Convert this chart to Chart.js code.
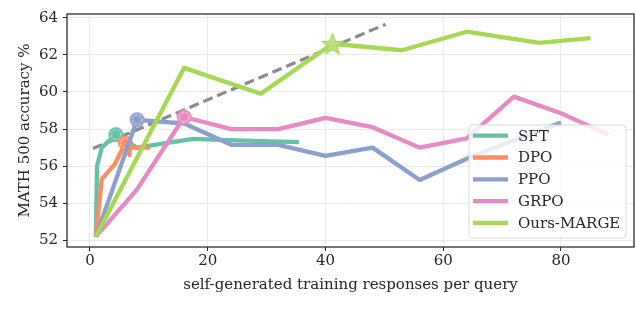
<!DOCTYPE html>
<html>
<head>
<meta charset="utf-8">
<script src="https://cdn.jsdelivr.net/npm/chart.js@4.4.1/dist/chart.umd.min.js"></script>
<style>
  html, body { margin: 0; padding: 0; background: #fff; }
</style>
</head>
<body>
<canvas id="myChart" width="636" height="322"></canvas>
<script>
// tick labels
const xTicks = [0, 20, 40, 60, 80];
const yTicks = [52, 54, 56, 58, 60, 62, 64];

// series (x = responses per query, y = MATH500 accuracy)
const sftX = [1, 1.2, 2, 4.4, 8, 17.5, 22, 35.5];
const sftY = [52.2, 56.0, 57.0, 57.7, 57.0, 57.47, 57.42, 57.3];
const dpoX = [1, 2, 4.2, 6, 6.7, 6.8, 10.2];
const dpoY = [52.2, 55.3, 56.1, 57.25, 56.6, 57.0, 57.0];
const ppoX = [1, 8, 16, 24, 32, 40, 48, 56, 64, 72, 80];
const ppoY = [52.2, 58.5, 58.3, 57.15, 57.15, 56.55, 57.0, 55.25, 56.4, 57.4, 58.35];
const grpoX = [1, 8, 16, 24, 32, 40, 48, 56, 64, 72, 80, 88];
const grpoY = [52.2, 54.75, 58.65, 58.0, 58.0, 58.6, 58.1, 57.0, 57.5, 59.75, 58.85, 57.7];
const margeX = [1, 16, 29, 41.2, 53, 64, 76.3, 85];
const margeY = [52.2, 61.3, 59.9, 62.6, 62.25, 63.25, 62.65, 62.9];
const trendX = [0.5, 50.2];
const trendY = [56.95, 63.65];

const seriesNames = ['SFT', 'DPO', 'PPO', 'GRPO', 'Ours-MARGE'];
const bestIndex = [3, 3, 1, 2, 3];

const colors = ['#66c2a5', '#fc8d62', '#8da0cb', '#e78ac3', '#a6d854'];
const textColor = '#262626';

Chart.defaults.font.family = "'DejaVu Serif', serif";
Chart.defaults.font.size = 15;
Chart.defaults.color = textColor;

function toPoints(xs, ys) {
    return xs.map((x, i) => ({ x: x, y: ys[i] }));
}

function circleMarker(color) {
    const r = 7.5;
    const c = document.createElement('canvas');
    c.width = c.height = 19;
    const g = c.getContext('2d');
    const m = 9.5;
    g.beginPath();
    g.arc(m, m, r, 0, Math.PI * 2);
    g.fillStyle = color;
    g.fill();
    g.beginPath();
    g.setLineDash([2.5, 1.5]);
    g.arc(m, m, r - 2.6, 0, Math.PI * 2);
    g.strokeStyle = 'rgba(255,255,255,0.85)';
    g.lineWidth = 0.9;
    g.stroke();
    return c;
}

function starMarker(color) {
    const R = 10.5, r = 4.4;
    const c = document.createElement('canvas');
    c.width = c.height = 26;
    const g = c.getContext('2d');
    const m = 13;
    g.beginPath();
    for (let i = 0; i < 10; i++) {
        const a = -Math.PI / 2 + i * Math.PI / 5;
        const rr = i % 2 ? r : R;
        g.lineTo(m + rr * Math.cos(a), m + rr * Math.sin(a) + 1);
    }
    g.closePath();
    g.fillStyle = 'rgba(190,228,130,0.9)';
    g.fill();
    g.strokeStyle = color;
    g.lineWidth = 1.6;
    g.stroke();
    return c;
}

function makeDataset(i, xs, ys) {
    const marker = i === 4 ? starMarker(colors[i]) : circleMarker(colors[i]);
    return {
        label: seriesNames[i],
        order: 4 - i,
        data: toPoints(xs, ys),
        borderColor: colors[i],
        backgroundColor: colors[i],
        borderWidth: 4.3,
        borderJoinStyle: 'round',
        borderCapStyle: 'butt',
        tension: 0,
        fill: false,
        pointStyle: marker,
        pointRadius: xs.map((x, k) => k === bestIndex[i] ? 8 : 0),
        pointHoverRadius: 0
    };
}

const frameAndLegend = {
    id: 'frameAndLegend',
    afterDatasetsDraw(chart) {
        const ctx = chart.ctx;
        const a = chart.chartArea;

        // box around the axes
        ctx.save();
        ctx.strokeStyle = textColor;
        ctx.lineWidth = 1.25;
        ctx.strokeRect(a.left, a.top, a.right - a.left, a.bottom - a.top);

        // legend, bottom right
        const w = 157, h = 113;
        const x0 = a.right - 8 - w, y0 = a.bottom - 9 - h, rad = 3;
        ctx.beginPath();
        ctx.moveTo(x0 + rad, y0);
        ctx.arcTo(x0 + w, y0, x0 + w, y0 + h, rad);
        ctx.arcTo(x0 + w, y0 + h, x0, y0 + h, rad);
        ctx.arcTo(x0, y0 + h, x0, y0, rad);
        ctx.arcTo(x0, y0, x0 + w, y0, rad);
        ctx.closePath();
        ctx.fillStyle = 'rgba(255,255,255,0.8)';
        ctx.fill();
        ctx.strokeStyle = '#d9d9d9';
        ctx.lineWidth = 1;
        ctx.stroke();

        ctx.font = "15px 'DejaVu Serif', serif";
        ctx.textBaseline = 'middle';
        ctx.textAlign = 'left';
        for (let i = 0; i < seriesNames.length; i++) {
            const yy = y0 + 10.7 + i * 21.8;
            ctx.beginPath();
            ctx.moveTo(x0 + 4, yy);
            ctx.lineTo(x0 + 39, yy);
            ctx.strokeStyle = colors[i];
            ctx.lineWidth = 4.3;
            ctx.stroke();
            ctx.fillStyle = textColor;
            ctx.fillText(seriesNames[i], x0 + 49, yy + 1);
        }
        ctx.restore();
    }
};

new Chart(document.getElementById('myChart'), {
    type: 'line',
    data: {
        datasets: [
            makeDataset(0, sftX, sftY),
            makeDataset(1, dpoX, dpoY),
            makeDataset(2, ppoX, ppoY),
            makeDataset(3, grpoX, grpoY),
            makeDataset(4, margeX, margeY),
            {
                label: 'trend',
                order: 5,
                data: toPoints(trendX, trendY),
                borderColor: '#8c8c8c',
                borderWidth: 3.2,
                borderDash: [10, 5],
                pointRadius: 0,
                fill: false
            }
        ]
    },
    options: {
        responsive: false,
        animation: false,
        devicePixelRatio: 1,
        layout: { padding: { top: 2, right: 2, left: 0, bottom: 28 } },
        plugins: {
            legend: { display: false },
            tooltip: { enabled: false }
        },
        scales: {
            x: {
                type: 'linear',
                min: -3.9,
                max: 92.4,
                afterBuildTicks: (s) => { s.ticks = xTicks.map(v => ({ value: v })); },
                afterFit: (s) => { s.height = 47; },
                border: { display: false },
                grid: { color: '#ebebeb', lineWidth: 1, tickColor: textColor, tickLength: 4, tickWidth: 1 },
                ticks: { padding: 1, maxRotation: 0, color: textColor },
                title: {
                    display: true,
                    text: 'self-generated training responses per query',
                    color: textColor,
                    padding: { top: 0, bottom: 0 }
                }
            },
            y: {
                type: 'linear',
                min: 51.64,
                max: 64.205,
                afterBuildTicks: (s) => { s.ticks = yTicks.map(v => ({ value: v })); },
                afterFit: (s) => { s.width = 67; },
                border: { display: false },
                grid: { color: '#ebebeb', lineWidth: 1, tickColor: textColor, tickLength: 4, tickWidth: 1 },
                ticks: { padding: 5, color: textColor },
                title: {
                    display: true,
                    text: 'MATH 500 accuracy %',
                    color: textColor,
                    padding: { top: 16, bottom: 0 }
                }
            }
        }
    },
    plugins: [frameAndLegend]
});
</script>
</body>
</html>
